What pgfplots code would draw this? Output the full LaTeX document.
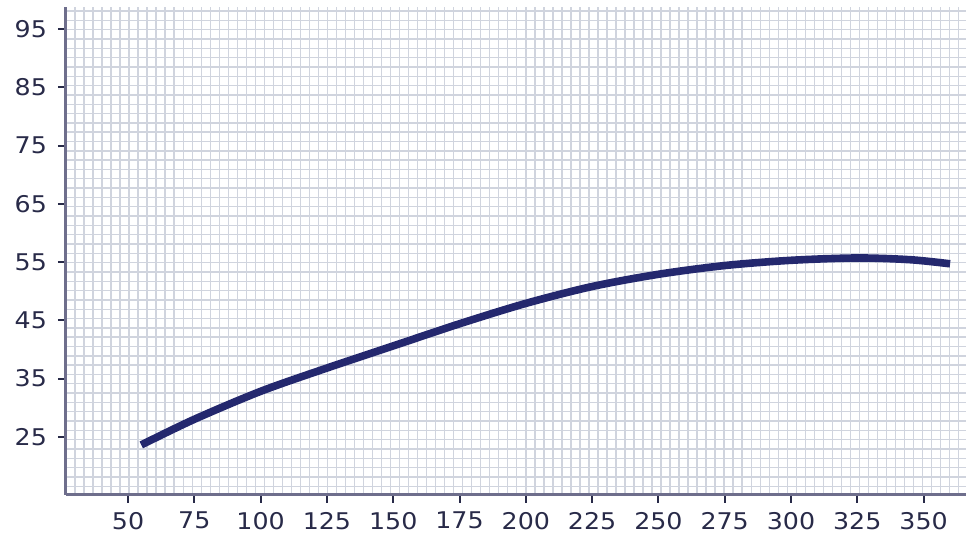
\documentclass[border=0pt]{standalone}
\usepackage{pgfplots}
\pgfplotsset{compat=1.18}
\usepackage{fontspec}
\setmainfont[FakeStretch=1.1]{DejaVu Sans}

\definecolor{gridc}{RGB}{208,212,222}
\definecolor{axisc}{RGB}{110,110,140}
\definecolor{textc}{RGB}{40,42,72}
\definecolor{linec}{RGB}{36,40,110}

\begin{document}
\begin{tikzpicture}
\path[use as bounding box] (-33pt,-19.5pt) rectangle (450pt,247.5pt);
\begin{axis}[
  at={(0,0)}, anchor=south west,
  scale only axis,
  width=450pt, height=244pt,
  xmin=26.6, xmax=366,
  ymin=15, ymax=98.8,
  axis lines*=left,
  axis line style={-, line width=1.5pt, color=axisc},
  xtick={50,75,...,350},
  ytick={25,35,...,95},
  minor xtick={30,33.4,...,366},
  minor ytick={16.5,18.1,...,98.5},
  grid=minor,
  minor grid style={color=gridc, line width=0.7pt},
  minor tick length=0pt,
  major tick length=4pt,
  tick align=outside,
  tick style={line width=1pt, color=textc},
  tick label style={font=\fontsize{11.5}{13}\selectfont, color=textc},
  /pgf/number format/assume math mode=true,
  yticklabel style={xshift=-2pt},
  xticklabel style={yshift=-1pt},
  clip=false,
]
\addplot[smooth, tension=0.5, line width=3.8pt, color=linec, line cap=butt]
  coordinates{
    (55,23.6)
    (75,28.0)
    (100,32.8)
    (125,36.8)
    (150,40.6)
    (175,44.4)
    (200,47.9)
    (225,50.8)
    (250,52.9)
    (275,54.4)
    (300,55.3)
    (325,55.7)
    (345,55.4)
    (360,54.7)
};
\end{axis}
\end{tikzpicture}
\end{document}
